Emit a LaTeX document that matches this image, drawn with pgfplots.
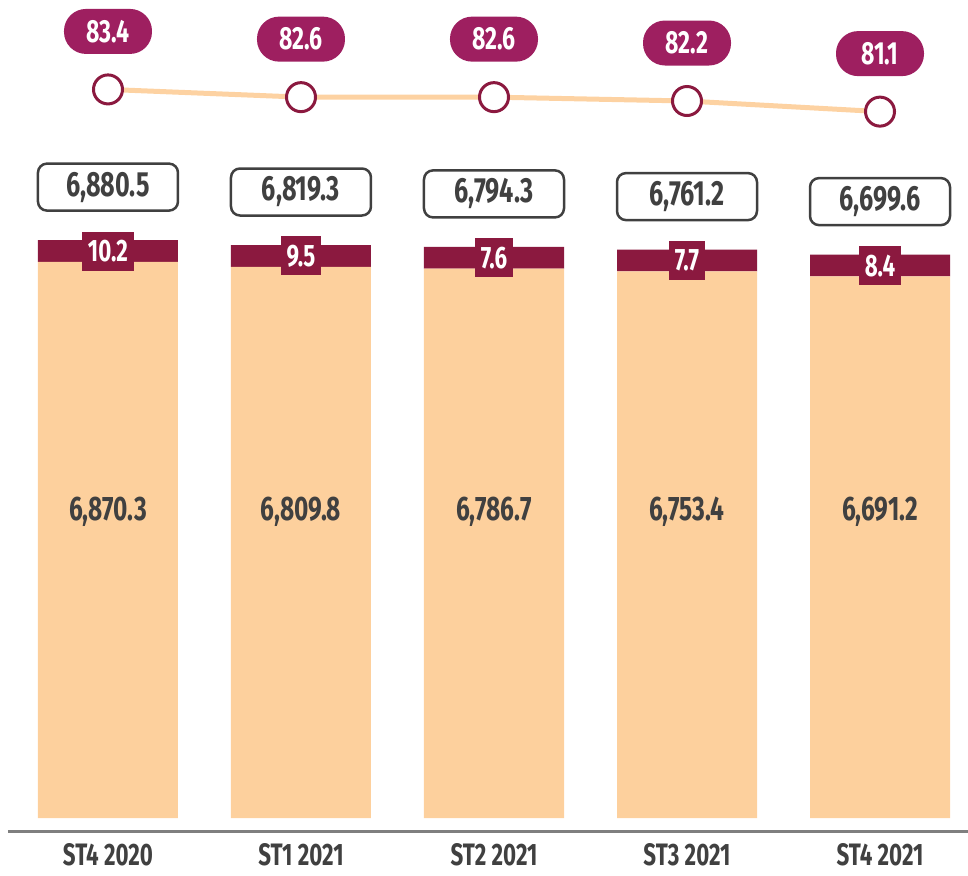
\documentclass[border=0pt]{standalone}
\usepackage{pgfplots}
\pgfplotsset{compat=1.18}
\usepackage{pgfplotstable}
\usepackage{fontspec}
\setmainfont{Fira Sans}[FakeStretch=0.72]
\definecolor{peach}{HTML}{FDD09D}
\definecolor{linepeach}{HTML}{FDD2A2}
\definecolor{darkred}{HTML}{8B193F}
\definecolor{labelmag}{HTML}{9E1F60}
\definecolor{textgray}{HTML}{404040}
\definecolor{axisgray}{HTML}{7F7F7F}
\newcommand\lf[1]{\fontsize{#1}{#1}\selectfont\bfseries}

\pgfplotstableread{
idx base extra vis total rate
0 6870.3 10.2 270 6880.5 83.4
1 6809.8 9.5 270 6819.3 82.6
2 6786.7 7.6 270 6794.3 82.6
3 6753.4 7.7 270 6761.2 82.2
4 6691.2 8.4 270 6699.6 81.1
}\datatable

\begin{document}
\begin{tikzpicture}
\path[use as bounding box] (0,0) rectangle (968pt,875pt);
\pgfplotsset{common/.style={scale only axis, width=960pt, height=831pt,
  at={(8pt,44pt)}, anchor=south west, xmin=-0.5181, xmax=4.456, clip=false,
  /pgf/number format/fixed, /pgf/number format/fixed zerofill,
  /pgf/number format/precision=1, /pgf/number format/1000 sep={,},
  /pgf/number format/assume math mode=true}}

% bars
\begin{axis}[common, ybar stacked, bar width=140pt,
  ymin=-160.6, ymax=10107.5,
  axis x line*=bottom, axis y line=none,
  x axis line style={draw=axisgray, line width=3pt},
  xtick={0,1,2,3,4},
  xticklabels={ST4 2020, ST1 2021, ST2 2021, ST3 2021, ST4 2021},
  major tick length=0pt,
  xticklabel style={font=\lf{31}, text=textgray, inner sep=0pt, anchor=north, yshift=-12pt},
  ]
\addplot[fill=peach, draw=none] table[x=idx, y=base]{\datatable};
\addplot[fill=darkred, draw=none] table[x=idx, y=vis]{\datatable};
\end{axis}

% labels on bars
\begin{axis}[common, hide axis, ymin=-160.6, ymax=10107.5]
\addplot[draw=none, nodes near coords, point meta=explicit,
  nodes near coords style={anchor=center, font=\lf{34}, text=textgray}]
  table[x=idx, y expr=3780, meta=base]{\datatable};
\addplot[draw=none, nodes near coords, point meta=explicit,
  nodes near coords style={anchor=center, fill=darkred, text=white, inner xsep=6pt,
  inner ysep=0pt, minimum height=39pt, font=\lf{31}}]
  table[x=idx, y expr=\thisrow{base}+135, meta=extra]{\datatable};
\addplot[draw=none, nodes near coords, point meta=explicit,
  nodes near coords style={anchor=center, yshift=53pt, draw=textgray, line width=2.5pt,
  fill=white, rounded corners=9pt, minimum width=140pt, minimum height=47pt,
  inner sep=0pt, font=\lf{35}, text=textgray}]
  table[x=idx, y expr=\thisrow{base}+\thisrow{vis}, meta=total]{\datatable};
\end{axis}

% line
\begin{axis}[common, hide axis, ymin=6.55, ymax=92.67]
\addplot[draw=linepeach, line width=5pt, mark=*, mark size=14.5pt,
  mark options={fill=white, draw=darkred, line width=3pt},
  nodes near coords, point meta=explicit,
  nodes near coords style={anchor=center, yshift=58pt, fill=labelmag, text=white,
  rounded corners=22pt, minimum width=88pt, minimum height=45pt, inner sep=0pt,
  font=\lf{32}}]
  table[x=idx, y=rate, meta=rate]{\datatable};
\end{axis}
\end{tikzpicture}
\end{document}
